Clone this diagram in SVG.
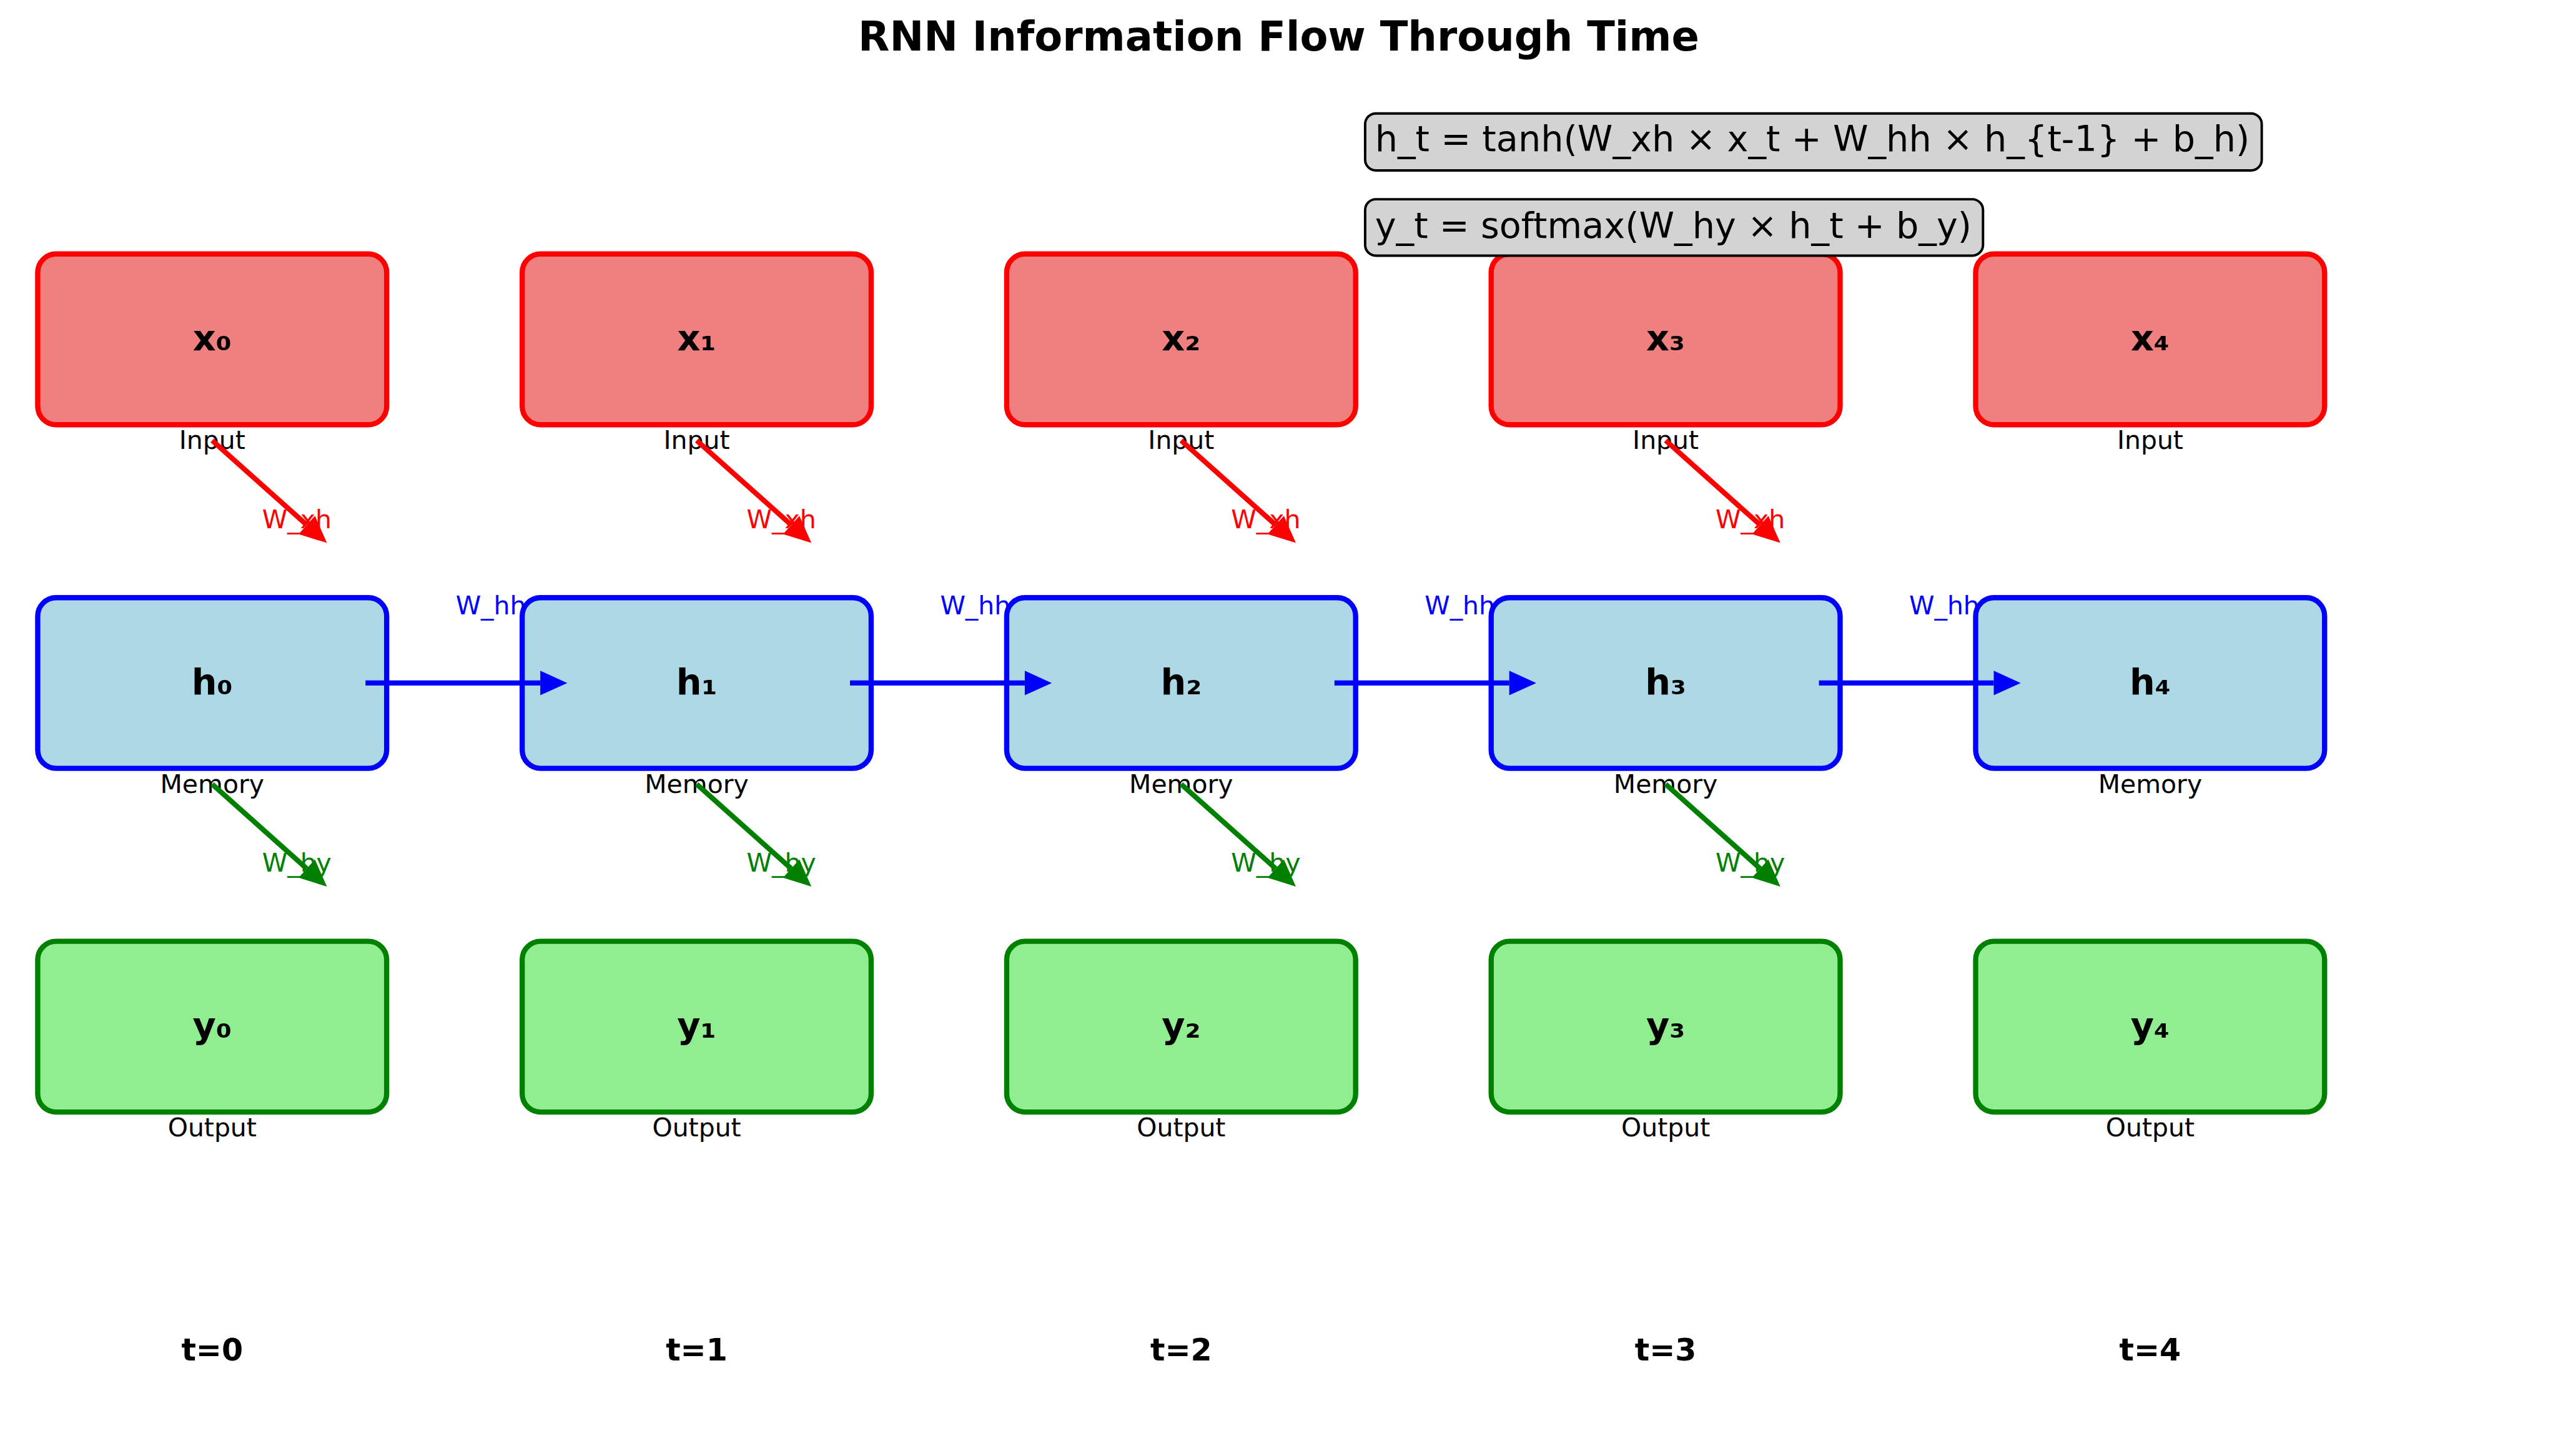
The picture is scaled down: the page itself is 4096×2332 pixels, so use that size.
<svg xmlns="http://www.w3.org/2000/svg" width="4096" height="2332" viewBox="0 0 4096 2332">
<style>
text{font-family:"DejaVu Sans","Liberation Sans",sans-serif}
.in rect{fill:#F08080;stroke:#FF0000;stroke-width:8.5}
.mem rect{fill:#ADD8E6;stroke:#0000FF;stroke-width:8.5}
.out rect{fill:#90EE90;stroke:#008000;stroke-width:8.5}
.lbl{font-size:58.3px;font-weight:bold;text-anchor:middle;fill:#000}
.sub{font-size:41.7px;text-anchor:middle;fill:#000}
.tl{font-size:50px;font-weight:bold;text-anchor:middle;fill:#000}
.wl{font-size:41.7px}
.eq rect{fill:#D3D3D3;stroke:#000;stroke-width:4}
.eq text{font-size:58.3px;fill:#000}
.cr{stroke:#FF0000;stroke-width:8.3;fill:none;marker-end:url(#ar)}
.cb{stroke:#0000FF;stroke-width:8.3;fill:none;marker-end:url(#ab)}
.cg{stroke:#008000;stroke-width:8.3;fill:none;marker-end:url(#ag)}
</style>
<defs>
<marker id="ar" markerUnits="userSpaceOnUse" viewBox="0 -20 44 40" refX="0" refY="0" markerWidth="44" markerHeight="40" orient="auto" overflow="visible"><path d="M0,-20 L44,0 L0,20 Z" fill="#FF0000"/></marker>
<marker id="ab" markerUnits="userSpaceOnUse" viewBox="0 -20 44 40" refX="0" refY="0" markerWidth="44" markerHeight="40" orient="auto" overflow="visible"><path d="M0,-20 L44,0 L0,20 Z" fill="#0000FF"/></marker>
<marker id="ag" markerUnits="userSpaceOnUse" viewBox="0 -20 44 40" refX="0" refY="0" markerWidth="44" markerHeight="40" orient="auto" overflow="visible"><path d="M0,-20 L44,0 L0,20 Z" fill="#008000"/></marker>
</defs>
<rect width="4096" height="2332" fill="#FFFFFF"/>
<g transform="scale(0.982)">
<g id="whh-labels" class="wl" fill="#0000FF">
<text x="743" y="1002">W_hh</text>
<text x="1533" y="1002">W_hh</text>
<text x="2323" y="1002">W_hh</text>
<text x="3113" y="1002">W_hh</text>
</g>
<g id="x0" class="in"><rect x="61.5" y="414.25" width="569" height="278.5" rx="30"/><text class="lbl" x="346" y="571.5">x₀</text><text class="sub" x="346" y="732.5">Input</text></g>
<g id="x1" class="in"><rect x="851.5" y="414.25" width="569" height="278.5" rx="30"/><text class="lbl" x="1136" y="571.5">x₁</text><text class="sub" x="1136" y="732.5">Input</text></g>
<g id="x2" class="in"><rect x="1641.5" y="414.25" width="569" height="278.5" rx="30"/><text class="lbl" x="1926" y="571.5">x₂</text><text class="sub" x="1926" y="732.5">Input</text></g>
<g id="x3" class="in"><rect x="2431.5" y="414.25" width="569" height="278.5" rx="30"/><text class="lbl" x="2716" y="571.5">x₃</text><text class="sub" x="2716" y="732.5">Input</text></g>
<g id="x4" class="in"><rect x="3221.5" y="414.25" width="569" height="278.5" rx="30"/><text class="lbl" x="3506" y="571.5">x₄</text><text class="sub" x="3506" y="732.5">Input</text></g>
<g id="h0" class="mem"><rect x="61.5" y="974.75" width="569" height="278.5" rx="30"/><text class="lbl" x="346" y="1132">h₀</text><text class="sub" x="346" y="1293">Memory</text></g>
<g id="h1" class="mem"><rect x="851.5" y="974.75" width="569" height="278.5" rx="30"/><text class="lbl" x="1136" y="1132">h₁</text><text class="sub" x="1136" y="1293">Memory</text></g>
<g id="h2" class="mem"><rect x="1641.5" y="974.75" width="569" height="278.5" rx="30"/><text class="lbl" x="1926" y="1132">h₂</text><text class="sub" x="1926" y="1293">Memory</text></g>
<g id="h3" class="mem"><rect x="2431.5" y="974.75" width="569" height="278.5" rx="30"/><text class="lbl" x="2716" y="1132">h₃</text><text class="sub" x="2716" y="1293">Memory</text></g>
<g id="h4" class="mem"><rect x="3221.5" y="974.75" width="569" height="278.5" rx="30"/><text class="lbl" x="3506" y="1132">h₄</text><text class="sub" x="3506" y="1293">Memory</text></g>
<g id="y0" class="out"><rect x="61.5" y="1535.25" width="569" height="278.5" rx="30"/><text class="lbl" x="346" y="1692.5">y₀</text><text class="sub" x="346" y="1853.5">Output</text></g>
<g id="y1" class="out"><rect x="851.5" y="1535.25" width="569" height="278.5" rx="30"/><text class="lbl" x="1136" y="1692.5">y₁</text><text class="sub" x="1136" y="1853.5">Output</text></g>
<g id="y2" class="out"><rect x="1641.5" y="1535.25" width="569" height="278.5" rx="30"/><text class="lbl" x="1926" y="1692.5">y₂</text><text class="sub" x="1926" y="1853.5">Output</text></g>
<g id="y3" class="out"><rect x="2431.5" y="1535.25" width="569" height="278.5" rx="30"/><text class="lbl" x="2716" y="1692.5">y₃</text><text class="sub" x="2716" y="1853.5">Output</text></g>
<g id="y4" class="out"><rect x="3221.5" y="1535.25" width="569" height="278.5" rx="30"/><text class="lbl" x="3506" y="1692.5">y₄</text><text class="sub" x="3506" y="1853.5">Output</text></g>
<g id="connectors">
<path class="cr" d="M346,718.5 L500.2,856.2"/>
<path class="cr" d="M1136,718.5 L1290.2,856.2"/>
<path class="cr" d="M1926,718.5 L2080.2,856.2"/>
<path class="cr" d="M2716,718.5 L2870.2,856.2"/>
<path class="cb" d="M596,1114 L881,1114"/>
<path class="cb" d="M1386,1114 L1671,1114"/>
<path class="cb" d="M2176,1114 L2461,1114"/>
<path class="cb" d="M2966,1114 L3251,1114"/>
<path class="cg" d="M346,1279 L500.2,1416.7"/>
<path class="cg" d="M1136,1279 L1290.2,1416.7"/>
<path class="cg" d="M1926,1279 L2080.2,1416.7"/>
<path class="cg" d="M2716,1279 L2870.2,1416.7"/>
<g class="wl" text-anchor="middle">
<text x="484" y="861.5" fill="#FF0000">W_xh</text>
<text x="1274" y="861.5" fill="#FF0000">W_xh</text>
<text x="2064" y="861.5" fill="#FF0000">W_xh</text>
<text x="2854" y="861.5" fill="#FF0000">W_xh</text>
<text x="484" y="1422" fill="#008000">W_hy</text>
<text x="1274" y="1422" fill="#008000">W_hy</text>
<text x="2064" y="1422" fill="#008000">W_hy</text>
<text x="2854" y="1422" fill="#008000">W_hy</text>
</g>
</g>
<g id="eq1" class="eq"><rect x="2226" y="185" width="1462" height="93" rx="17.5"/><text x="2242" y="246">h_t = tanh(W_xh × x_t + W_hh × h_{t-1} + b_h)</text></g>
<g id="eq2" class="eq"><rect x="2226" y="325" width="1007.5" height="92" rx="17.5"/><text x="2242" y="388">y_t = softmax(W_hy × h_t + b_y)</text></g>
<text id="title" x="2085" y="82" font-size="66.7" font-weight="bold" text-anchor="middle" fill="#000">RNN Information Flow Through Time</text>
<g id="time-labels">
<text class="tl" x="346" y="2219">t=0</text>
<text class="tl" x="1136" y="2219">t=1</text>
<text class="tl" x="1926" y="2219">t=2</text>
<text class="tl" x="2716" y="2219">t=3</text>
<text class="tl" x="3506" y="2219">t=4</text>
</g>
</g>
</svg>
